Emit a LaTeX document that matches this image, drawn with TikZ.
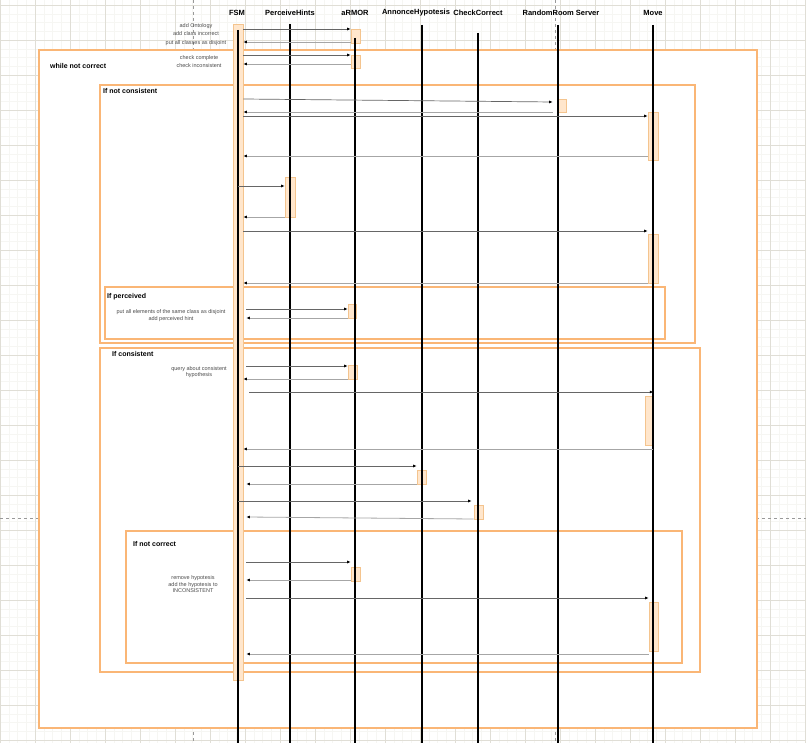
\documentclass[tikz,border=0pt]{standalone}
\usepackage{fontspec}
\setmainfont{Liberation Sans}
\usepackage{tikz}
\usetikzlibrary{arrows.meta}
\usepackage{xcolor}
\definecolor{frame-line}{RGB}{250,182,118}
\definecolor{act-fill}{RGB}{255,230,204}
\definecolor{act-line}{RGB}{244,196,142}
\definecolor{grid-minor}{RGB}{246,246,243}
\definecolor{grid-major}{RGB}{224,222,214}

\tikzset{
	gridminor/.style={grid-minor,line width=0.4pt},
	gridmajor/.style={grid-major,line width=0.5pt},
	pagebreak/.style={black!40,dashed,line width=0.6pt},
	framebox/.style={frame-line,fill=white,line width=1.6pt},
	framelabel/.style={anchor=west,inner sep=0pt,font=\fontsize{7}{8}\selectfont\bfseries},
	head/.style={inner sep=0pt,font=\fontsize{7.5}{9}\selectfont\bfseries},
	act/.style={draw=act-line,fill=act-fill,line width=0.6pt,inner sep=0pt,minimum width=9pt},
	life/.style={black,line width=2.4pt},
	msg/.style={black!60,line width=0.7pt,-{Latex[length=3.5pt,width=3pt,color=black]}},
	ret/.style={black!35,line width=0.8pt,-{Latex[length=3.5pt,width=3pt,color=black]}},
	note/.style={inner sep=0pt,align=center,text=black!70}
}

\begin{document}
\begin{tikzpicture}[x=1pt,y=-1pt]
	\useasboundingbox (0,0) rectangle (806,743);
	% background grid
	\foreach \i in {0,...,92} {\draw[gridminor] (\i*8.75,0) -- (\i*8.75,743);}
	\foreach \j in {0,...,84} {\draw[gridminor] (0,5+\j*8.75) -- (806,5+\j*8.75);}
	\foreach \i in {0,...,23} {\draw[gridmajor] (\i*35,0) -- (\i*35,743);}
	\foreach \j in {0,...,21} {\draw[gridmajor] (0,5+\j*35) -- (806,5+\j*35);}
	\draw[pagebreak] (193,0) -- (193,743);
	\draw[pagebreak] (555,0) -- (555,743);
	\draw[pagebreak] (0,518) -- (806,518);

	% combined fragments
	\draw[framebox] (39,50) rectangle (757,728);
	\draw[framebox] (100,85) rectangle (695,343);
	\draw[framebox] (105,287) rectangle (665,339);
	\draw[framebox] (100,348) rectangle (700,672);
	\draw[framebox] (126,531) rectangle (682,663);
	\node[framelabel] (tWhile) at (50,66) {while not correct};
	\node[framelabel] (tNotCons) at (103,91) {If not consistent};
	\node[framelabel] (tPerc) at (107,297) {If perceived};
	\node[framelabel] (tCons) at (112,354) {If consistent};
	\node[framelabel] (tNotCorr) at (133,544) {If not correct};

	% lifeline heads
	\node[head] (fsm) at (237,13) {FSM};
	\node[head] (hints) at (290,13) {PerceiveHints};
	\node[head] (armor) at (355,13) {aRMOR};
	\node[head] (annonce) at (416,13) {AnnonceHypotesis};
	\node[head] (check) at (478,13) {CheckCorrect};
	\node[head] (room) at (561,13) {RandomRoom Server};
	\node[head] (move) at (653,13) {Move};

	% activations
	\node[act,minimum width=10pt,minimum height=656pt] (fsmA) at (238,352) {};
	\node[act,minimum height=14pt] (armorA1) at (355.5,36) {};
	\node[act,minimum height=13pt] (armorA2) at (355.5,61.5) {};
	\node[act,minimum height=13pt] (roomA) at (561.5,105.5) {};
	\node[act,minimum width=10pt,minimum height=48pt] (moveA1) at (653,136) {};
	\node[act,minimum width=10pt,minimum height=40pt] (hintsA) at (290,197) {};
	\node[act,minimum width=10pt,minimum height=49pt] (moveA2) at (653,258.5) {};
	\node[act,minimum width=8pt,minimum height=14pt] (armorA3) at (352,311) {};
	\node[act,minimum height=14pt] (armorA4) at (352.5,372) {};
	\node[act,minimum width=8pt,minimum height=49pt] (moveA3) at (649,420.5) {};
	\node[act,minimum height=14pt] (annA) at (421.5,477) {};
	\node[act,minimum height=14pt] (checkA) at (478.5,512) {};
	\node[act,minimum height=14pt] (armorA5) at (355.5,574) {};
	\node[act,minimum height=49pt] (moveA4) at (653.5,626.5) {};

	% lifelines
	\foreach \x/\top in {238/30,290/24,355/38,422/25,478/33,558/25,653/25}
		\draw[life] (\x,\top) -- (\x,743);

	% messages
	\draw[msg] (fsmA.east |- 0,29) -- (armorA1.west |- 0,29);
	\draw[ret] (armorA1.west |- 0,42) -- (fsmA.east |- 0,42);
	\draw[msg] (fsmA.east |- 0,55) -- (armorA2.west |- 0,55);
	\draw[ret] (armorA2.west |- 0,64) -- (fsmA.east |- 0,64);
	\draw[msg] (fsmA.east |- 0,99) -- ([xshift=-4pt]roomA.west |- 0,102);
	\draw[ret] ([xshift=-4pt]roomA.west |- 0,112) -- (fsmA.east |- 0,112);
	\draw[msg] (fsmA.east |- 0,116) -- (moveA1.west |- 0,116);
	\draw[ret] (moveA1.west |- 0,156) -- (fsmA.east |- 0,156);
	\draw[msg] (fsmA |- 0,186) -- (hintsA.west |- 0,186);
	\draw[ret] (hintsA.west |- 0,217) -- (fsmA.east |- 0,217);
	\draw[msg] (fsmA.east |- 0,231) -- (moveA2.west |- 0,231);
	\draw[ret] (moveA2.west |- 0,283) -- (fsmA.east |- 0,283);
	\draw[msg] ([xshift=3pt]fsmA.east |- 0,309) -- (armorA3.west |- 0,309);
	\draw[ret] (armorA3.west |- 0,318) -- ([xshift=3pt]fsmA.east |- 0,318);
	\draw[msg] ([xshift=3pt]fsmA.east |- 0,366) -- (armorA4.west |- 0,366);
	\draw[ret] (armorA4.west |- 0,379) -- (fsmA.east |- 0,379);
	\draw[msg] ([xshift=6pt]fsmA.east |- 0,392) -- (moveA3.east |- 0,392);
	\draw[ret] (moveA3.east |- 0,449) -- (fsmA.east |- 0,449);
	\draw[msg] (fsmA |- 0,466) -- (annA.west |- 0,466);
	\draw[ret] (annA.west |- 0,484) -- ([xshift=3pt]fsmA.east |- 0,484);
	\draw[msg] (fsmA |- 0,501) -- ([xshift=-2pt]checkA.west |- 0,501);
	\draw[ret] (checkA.west |- 0,519) -- ([xshift=3pt]fsmA.east |- 0,517);
	\draw[msg] ([xshift=3pt]fsmA.east |- 0,562) -- (armorA5.west |- 0,562);
	\draw[ret] (armorA5.west |- 0,580) -- ([xshift=3pt]fsmA.east |- 0,580);
	\draw[msg] ([xshift=3pt]fsmA.east |- 0,598) -- (moveA4.west |- 0,598);
	\draw[ret] (moveA4.west |- 0,654) -- ([xshift=3pt]fsmA.east |- 0,654);

	% message labels
	\node[note,font=\fontsize{5.5}{8.5}\selectfont] (lblOnto) at (196,34.5) {add Ontology\\add class incorrect\\put all classes as disjoint};
	\node[note,font=\fontsize{5.5}{8}\selectfont] (lblCheck) at (199,62) {check complete\\check inconsistent};
	\node[note,font=\fontsize{5.5}{7}\selectfont] (lblHint) at (171,315.5) {put all elements of the same class as disjoint\\add perceived hint};
	\node[note,font=\fontsize{5.5}{6.5}\selectfont] (lblQuery) at (199,372) {query about consistent\\hypothesis};
	\node[note,font=\fontsize{5.5}{6.5}\selectfont] (lblRemove) at (193,584.5) {remove hypotesis\\add the hypotesis to\\INCONSISTENT};
\end{tikzpicture}
\end{document}
